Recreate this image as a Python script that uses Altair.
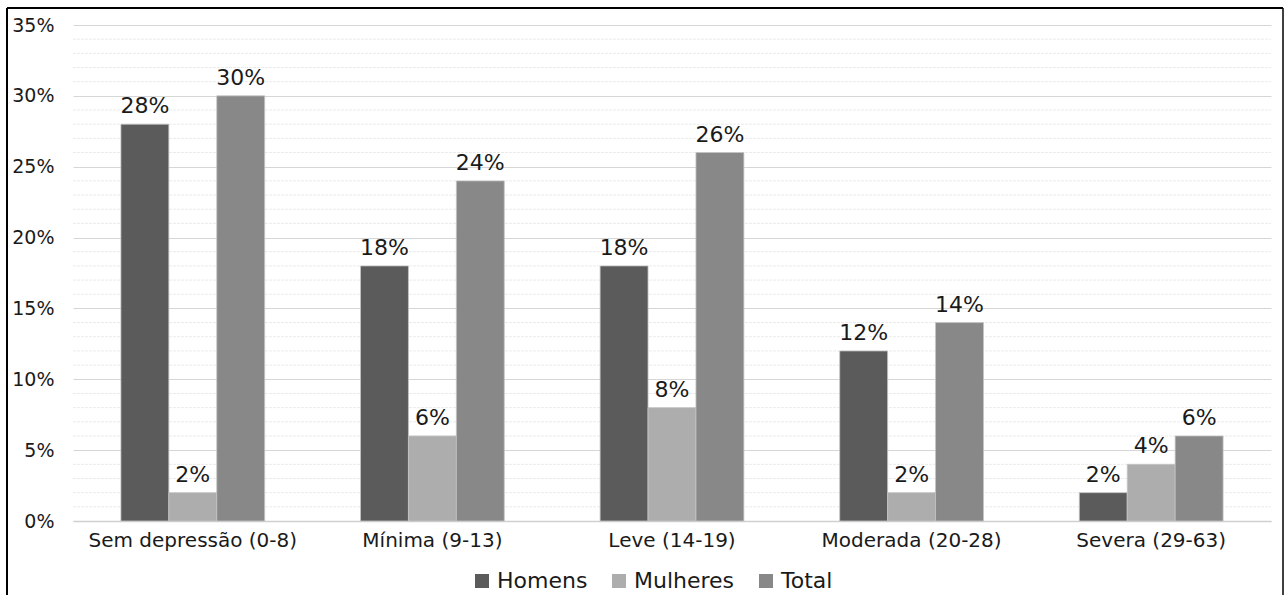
import altair as alt
import pandas as pd

categories = ["Sem depressão (0-8)", "Mínima (9-13)", "Leve (14-19)", "Moderada (20-28)", "Severa (29-63)"]
series = ["Homens", "Mulheres", "Total"]
homens = [28, 18, 18, 12, 2]
mulheres = [2, 6, 8, 2, 4]
total = [30, 24, 26, 14, 6]
colors = ["#5b5b5b", "#adadad", "#888888"]
major_ticks = [0, 5, 10, 15, 20, 25, 30, 35]
minor_ticks = [v for v in range(0, 36) if v % 5 != 0]

rows = []
for i, c in enumerate(categories):
    for s, vals in zip(series, [homens, mulheres, total]):
        rows.append({"cat": c, "serie": s, "val": vals[i], "label": f"{vals[i]}%"})
df = pd.DataFrame(rows)
minor_df = pd.DataFrame({"v": minor_ticks})

FONT = "DejaVu Sans"
yscale = alt.Scale(domain=[0, 35], nice=False)
yaxis = alt.Axis(values=major_ticks, domain=False, ticks=False,
                 labelExpr="datum.value + '%'", labelOverlap=False,
                 labelFontSize=19, labelColor="#1a1a1a", labelFont=FONT, labelPadding=19,
                 gridColor="#d6d6d6", gridWidth=1)

x = alt.X("cat:N", sort=categories, title=None,
          scale=alt.Scale(paddingInner=0.4, paddingOuter=0.2),
          axis=alt.Axis(labelAngle=0, labelFontSize=20, labelColor="#1a1a1a", labelFont=FONT,
                        ticks=False, domainColor="#d0d0d0", domainWidth=1.5, labelPadding=9,
                        labelLimit=0, grid=False))
y = alt.Y("val:Q", title=None, scale=yscale, axis=yaxis)
color = alt.Color("serie:N", sort=series,
                  scale=alt.Scale(domain=series, range=colors),
                  legend=alt.Legend(title=None, orient="none", direction="horizontal",
                                    legendX=398, legendY=545, symbolType="square", symbolSize=196,
                                    symbolStrokeWidth=0, labelFontSize=22, labelFont=FONT,
                                    labelColor="#1a1a1a", columnPadding=20, labelOffset=4))

minor = alt.Chart(minor_df).mark_rule(color="#ebebeb", strokeWidth=1, strokeDash=[3, 1]).encode(
    y=alt.Y("v:Q", title=None, scale=yscale, axis=yaxis), x=alt.value(0), x2=alt.value(1198)
)
bars = alt.Chart(df).mark_bar(stroke="#c4c4c4", strokeWidth=0.8).encode(
    x=x, y=y, color=color, xOffset=alt.XOffset("serie:N", sort=series)
)
labels = alt.Chart(df).mark_text(baseline="bottom", dy=-6, fontSize=22, font=FONT, color="#1a1a1a").encode(
    x=alt.X("cat:N", sort=categories),
    y=alt.Y("val:Q"),
    xOffset=alt.XOffset("serie:N", sort=series),
    text="label:N",
)

one = pd.DataFrame({"a": [0]})
frame_left = alt.Chart(one).mark_rule(color="black", strokeWidth=2).encode(
    x=alt.value(-66), y=alt.value(-17), y2=alt.value(600))
frame_top = alt.Chart(one).mark_rule(color="black", strokeWidth=2).encode(
    x=alt.value(-66), x2=alt.value(1210), y=alt.value(-17))
frame_right = alt.Chart(one).mark_rule(color="black", strokeWidth=1.5).encode(
    x=alt.value(1210), y=alt.value(-17), y2=alt.value(600))

chart = alt.layer(minor, bars, labels, frame_left, frame_top, frame_right).properties(
    width=1198, height=496,
    padding={"left": 73, "top": 25, "right": 15, "bottom": 74},
    autosize=alt.AutoSizeParams(type="none"),
    background="white",
).configure_view(stroke=None)

chart.save("out.html", embed_options={"renderer": "svg", "actions": False})
